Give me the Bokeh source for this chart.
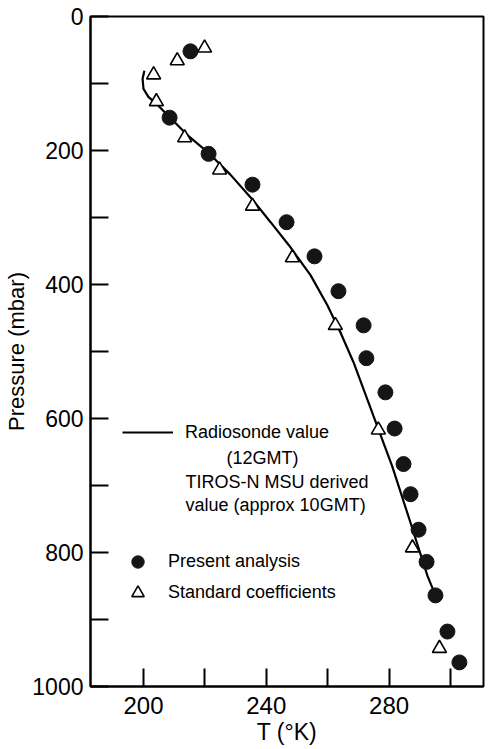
from bokeh.plotting import figure
from bokeh.models import Range1d, FixedTicker, Label, Legend, LegendItem
from bokeh.embed import file_html
from bokeh.resources import INLINE

# Radiosonde profile (solid line)
line_T = [200.3, 199.7, 200.0, 201.6, 204.6, 207.8, 214.3, 220.8, 228.3, 234.9,
          241.4, 247.3, 254.4, 259.9, 264.2, 268.4, 274.9, 281.0, 287.0, 292.5, 295.1]
line_P = [81, 93, 108, 120, 132, 147, 177, 202, 236, 270,
          307, 341, 386, 431, 472, 516, 596, 671, 756, 835, 864]

# Present analysis (filled circles)
circ_T = [215.3, 208.5, 221.2, 235.5, 246.6, 255.7, 263.5, 271.7, 272.6, 278.8,
          281.8, 284.7, 287.0, 289.6, 292.2, 295.1, 299.0, 302.9]
circ_P = [52, 151, 205, 251, 307, 358, 410, 461, 510, 561,
          615, 668, 713, 766, 814, 864, 918, 964]

# Standard coefficients (open triangles)
tri_T = [219.9, 211.0, 203.3, 204.2, 213.4, 224.8, 235.5, 248.5, 262.5, 276.5, 287.6, 296.4]
tri_P = [47, 66, 87, 127, 181, 229, 283, 360, 461, 617, 793, 943]

x_major = [200, 240, 280]
x_minor = [220, 260, 300]
y_major = [0, 200, 400, 600, 800, 1000]
y_minor = [100, 300, 500, 700, 900]

FONT = "Liberation Sans"

p = figure(width=493, height=749,
           x_range=Range1d(182.74, 310.75), y_range=Range1d(1000, 0),
           output_backend="svg", toolbar_location=None,
           min_border_left=90, min_border_right=10,
           min_border_top=16, min_border_bottom=63)
p.grid.visible = False
p.outline_line_color = "black"
p.outline_line_width = 2
p.background_fill_color = "white"
p.border_fill_color = "white"

p.xaxis.axis_label = "T (°K)"
p.yaxis.axis_label = "Pressure (mbar)"

for ax, maj, mn, stand in ((p.xaxis[0], x_major, x_minor, 10), (p.yaxis[0], y_major, y_minor, 7)):
    ax.ticker = FixedTicker(ticks=maj, minor_ticks=mn)
    ax.major_tick_in = 18
    ax.major_tick_out = 0
    ax.minor_tick_in = 18
    ax.minor_tick_out = 0
    ax.major_tick_line_width = 2
    ax.minor_tick_line_width = 2
    ax.axis_line_width = 2
    ax.major_tick_line_color = "black"
    ax.minor_tick_line_color = "black"
    ax.axis_line_color = "black"
    ax.major_label_text_font = FONT
    ax.major_label_text_color = "black"
    ax.major_label_standoff = stand
    ax.axis_label_text_font = FONT
    ax.axis_label_text_font_style = "normal"
    ax.axis_label_text_color = "black"

p.xaxis.major_label_text_font_size = "24px"
p.yaxis.major_label_text_font_size = "23px"
p.xaxis.axis_label_standoff = 2
p.yaxis.axis_label_standoff = 0
p.xaxis.axis_label_text_font_size = "23px"
p.yaxis.axis_label_text_font_size = "22px"

line_r = p.line(line_T, line_P, line_color="black", line_width=2.2)
circ_r = p.scatter(circ_T, circ_P, marker="circle", size=15,
                   fill_color="#151515", line_color="#151515")
tri_r = p.scatter(tri_T, tri_P, marker="triangle", size=14,
                  fill_color="white", line_color="black", line_width=1.6)

common = dict(padding=0, margin=0, border_line_color=None,
              background_fill_alpha=0, label_text_font=FONT,
              label_text_font_size="18px", label_text_color="black")

leg1 = Legend(items=[LegendItem(label="Radiosonde value", renderers=[line_r])],
              location=(32, 241), glyph_width=51, glyph_height=26,
              label_height=26, label_standoff=12, spacing=0, **common)
leg2 = Legend(items=[LegendItem(label="Present analysis", renderers=[circ_r]),
                     LegendItem(label="Standard coefficients", renderers=[tri_r])],
              location=(31, 78), glyph_width=33, glyph_height=31,
              label_height=31, label_standoff=14, spacing=0, **common)
p.add_layout(leg1)
p.add_layout(leg2)

def txt(x, y, s, align="left"):
    p.add_layout(Label(x=x, y=y, text=s, text_font=FONT, text_font_size="18px",
                       text_align=align, text_baseline="middle", text_color="black"))

txt(238.8, 659, "(12GMT)", align="center")
txt(213.7, 695, "TIROS-N   MSU derived")
txt(213.7, 729, "value (approx 10GMT)")

open("out.html", "w").write(file_html(p, INLINE))
